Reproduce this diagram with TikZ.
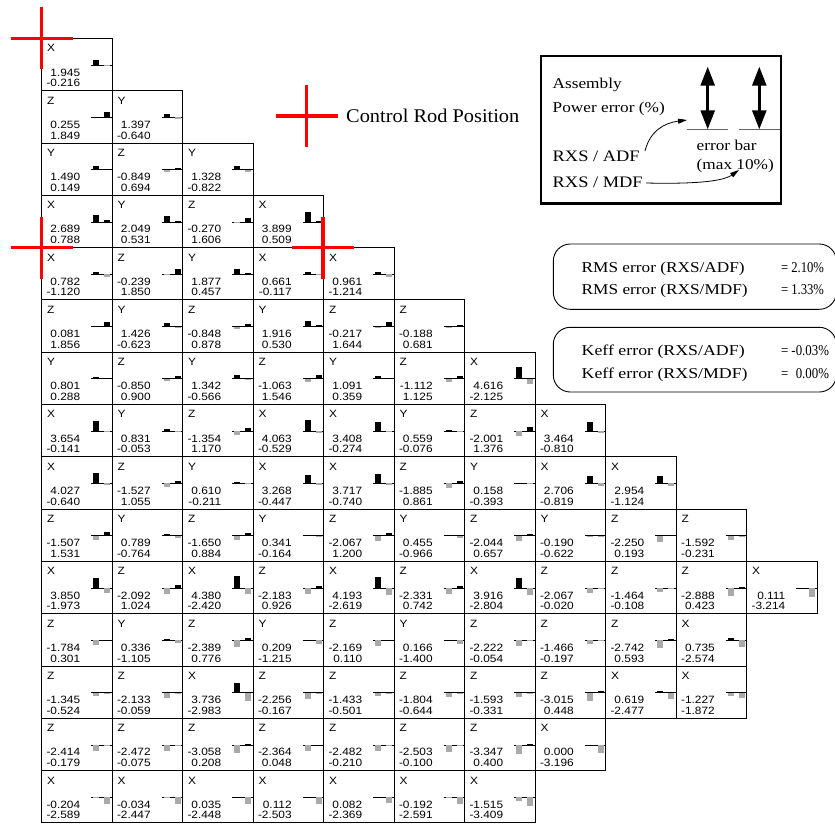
\documentclass[tikz,border=0pt]{standalone}
\usepackage{fontspec}
\usepackage{graphicx}
\setmainfont{Liberation Serif}
\newfontfamily\cellfont[FakeStretch=1.12]{Liberation Sans}
\newfontfamily\legfont[FakeStretch=1.15]{Liberation Serif}
\newfontfamily\rodfont[FakeStretch=1.05]{Liberation Serif}
\usetikzlibrary{arrows.meta}
\definecolor{rodred}{RGB}{255,0,0}
\definecolor{bargray}{RGB}{170,170,170}
\definecolor{legline}{RGB}{100,100,100}
\newcommand\fitw[2]{\resizebox{#1}{\height}{#2}}
\tikzset{
  cellbox/.style={draw, line width=0.8pt, minimum width=70.5pt, minimum height=52.3pt, inner sep=0pt, outer sep=0pt, anchor=north west},
  celltxt/.style={inner sep=0pt, outer sep=0pt, font=\cellfont\fontsize{10.6}{12}\selectfont},
  basel/.style={line width=0.8pt},
  rodmark/.style={draw=rodred, line width=3.4pt},
  legtxt/.style={inner sep=0pt, outer sep=0pt, anchor=base west, font=\legfont\fontsize{15}{17}\selectfont},
  rxstxt/.style={inner sep=0pt, outer sep=0pt, anchor=base west, font=\legfont\fontsize{16}{18}\selectfont},
  dblarrow/.style={line width=2.6pt, {Triangle[length=19pt,width=14pt]}-{Triangle[length=19pt,width=14pt]}},
  curvarrow/.style={line width=0.8pt, -{Triangle[length=9pt,width=5pt]}},
  roundbox/.style={draw, line width=0.9pt, rounded corners=17pt, inner sep=0pt, outer sep=0pt, anchor=north west}
}
\newcommand\cellbar[3]{%
  \pgfmathsetmacro\bh{-(#3)*2.65}%
  \pgfmathtruncatemacro\isneg{(#3)<0}%
  \ifnum\isneg=1\relax
    \fill[bargray] (#1,#2) rectangle ++(5.7,\bh);%
  \else
    \fill[black] (#1,#2) rectangle ++(5.7,\bh);%
  \fi}
\newcommand\cell[5]{%
  \pgfmathsetmacro\cx{41.7+#1*70.5}%
  \pgfmathsetmacro\cy{38.3+#2*52.3}%
  \node[cellbox] (c-#2-#1) at (\cx,\cy) {};
  \node[celltxt, anchor=base west] (l-#2-#1) at (\cx+5.3,\cy+13.5) {#3};
  \node[celltxt, anchor=base east] (a-#2-#1) at (\cx+38.5,\cy+37.7) {#4};
  \node[celltxt, anchor=base east] (b-#2-#1) at (\cx+38.5,\cy+48.4) {#5};
  \draw[basel] (\cx+49.3,\cy+26.7) -- (\cx+70.5,\cy+26.7);
  \cellbar{\cx+51.6}{\cy+26.7}{#4}
  \cellbar{\cx+62.6}{\cy+26.7}{#5}
}
\begin{document}
\begin{tikzpicture}[x=1pt,y=-1pt]
\fill[white] (0,0) rectangle (835,823);
\clip (0,0) rectangle (835,823);
% rows
\foreach \c/\l/\a/\b in {0/X/1.945/-0.216}{\cell{\c}{0}{\l}{\a}{\b}}
\foreach \c/\l/\a/\b in {0/Z/0.255/1.849, 1/Y/1.397/-0.640}{\cell{\c}{1}{\l}{\a}{\b}}
\foreach \c/\l/\a/\b in {0/Y/1.490/0.149, 1/Z/-0.849/0.694, 2/Y/1.328/-0.822}{\cell{\c}{2}{\l}{\a}{\b}}
\foreach \c/\l/\a/\b in {0/X/2.689/0.788, 1/Y/2.049/0.531, 2/Z/-0.270/1.606, 3/X/3.899/0.509}{\cell{\c}{3}{\l}{\a}{\b}}
\foreach \c/\l/\a/\b in {0/X/0.782/-1.120, 1/Z/-0.239/1.850, 2/Y/1.877/0.457, 3/X/0.661/-0.117, 4/X/0.961/-1.214}{\cell{\c}{4}{\l}{\a}{\b}}
\foreach \c/\l/\a/\b in {0/Z/0.081/1.856, 1/Y/1.426/-0.623, 2/Z/-0.848/0.878, 3/Y/1.916/0.530, 4/Z/-0.217/1.644, 5/Z/-0.188/0.681}{\cell{\c}{5}{\l}{\a}{\b}}
\foreach \c/\l/\a/\b in {0/Y/0.801/0.288, 1/Z/-0.850/0.900, 2/Y/1.342/-0.566, 3/Z/-1.063/1.546, 4/Y/1.091/0.359, 5/Z/-1.112/1.125, 6/X/4.616/-2.125}{\cell{\c}{6}{\l}{\a}{\b}}
\foreach \c/\l/\a/\b in {0/X/3.654/-0.141, 1/Y/0.831/-0.053, 2/Z/-1.354/1.170, 3/X/4.063/-0.529, 4/X/3.408/-0.274, 5/Y/0.559/-0.076, 6/Z/-2.001/1.376, 7/X/3.464/-0.810}{\cell{\c}{7}{\l}{\a}{\b}}
\foreach \c/\l/\a/\b in {0/X/4.027/-0.640, 1/Z/-1.527/1.055, 2/Y/0.610/-0.211, 3/X/3.268/-0.447, 4/X/3.717/-0.740, 5/Z/-1.885/0.861, 6/Y/0.158/-0.393, 7/X/2.706/-0.819, 8/X/2.954/-1.124}{\cell{\c}{8}{\l}{\a}{\b}}
\foreach \c/\l/\a/\b in {0/Z/-1.507/1.531, 1/Y/0.789/-0.764, 2/Z/-1.650/0.884, 3/Y/0.341/-0.164, 4/Z/-2.067/1.200, 5/Y/0.455/-0.966, 6/Z/-2.044/0.657, 7/Y/-0.190/-0.622, 8/Z/-2.250/0.193, 9/Z/-1.592/-0.231}{\cell{\c}{9}{\l}{\a}{\b}}
\foreach \c/\l/\a/\b in {0/X/3.850/-1.973, 1/Z/-2.092/1.024, 2/X/4.380/-2.420, 3/Z/-2.183/0.926, 4/X/4.193/-2.619, 5/Z/-2.331/0.742, 6/X/3.916/-2.804, 7/Z/-2.067/-0.020, 8/Z/-1.464/-0.108, 9/Z/-2.888/0.423, 10/X/0.111/-3.214}{\cell{\c}{10}{\l}{\a}{\b}}
\foreach \c/\l/\a/\b in {0/Z/-1.784/0.301, 1/Y/0.336/-1.105, 2/Z/-2.389/0.776, 3/Y/0.209/-1.215, 4/Z/-2.169/0.110, 5/Y/0.166/-1.400, 6/Z/-2.222/-0.054, 7/Z/-1.466/-0.197, 8/Z/-2.742/0.593, 9/X/0.735/-2.574}{\cell{\c}{11}{\l}{\a}{\b}}
\foreach \c/\l/\a/\b in {0/Z/-1.345/-0.524, 1/Z/-2.133/-0.059, 2/X/3.736/-2.983, 3/Z/-2.256/-0.167, 4/Z/-1.433/-0.501, 5/Z/-1.804/-0.644, 6/Z/-1.593/-0.331, 7/Z/-3.015/0.448, 8/X/0.619/-2.477, 9/X/-1.227/-1.872}{\cell{\c}{12}{\l}{\a}{\b}}
\foreach \c/\l/\a/\b in {0/Z/-2.414/-0.179, 1/Z/-2.472/-0.075, 2/Z/-3.058/0.208, 3/Z/-2.364/0.048, 4/Z/-2.482/-0.210, 5/Z/-2.503/-0.100, 6/Z/-3.347/0.400, 7/X/0.000/-3.196}{\cell{\c}{13}{\l}{\a}{\b}}
\foreach \c/\l/\a/\b in {0/X/-0.204/-2.589, 1/X/-0.034/-2.447, 2/X/0.035/-2.448, 3/X/0.112/-2.503, 4/X/0.082/-2.369, 5/X/-0.192/-2.591, 6/X/-1.515/-3.409}{\cell{\c}{14}{\l}{\a}{\b}}
% control rod marks
\coordinate (rod1) at (41.5,38.3);
\coordinate (rod2) at (41.5,247.5);
\coordinate (rod3) at (322.9,247.5);
\coordinate (rodleg) at (306.7,116);
\foreach \p in {rod1,rod2,rod3,rodleg}{
  \draw[rodmark] (\p) ++(-31,0) -- ++(62,0);
  \draw[rodmark] (\p) ++(0,-31) -- ++(0,62);
}
\node[inner sep=0pt, anchor=base west, font=\rodfont\fontsize{19.4}{21}\selectfont] (rodtxt) at (346,122) {Control Rod Position};
% legend box
\node[draw, line width=2.2pt, minimum width=240pt, minimum height=147.5pt, inner sep=0pt, outer sep=0pt, anchor=north west] (legbox) at (541,56) {};
\node[legtxt] (asm) at (552.7,88) {Assembly};
\node[legtxt] (pwr) at (552.7,112.5) {Power error (\%)};
\node[rxstxt] (adf) at (552.7,161.5) {RXS / ADF};
\node[rxstxt] (mdf) at (552.7,187) {RXS / MDF};
\node[legtxt] (ebar) at (696.7,150) {error bar};
\node[legtxt] (emax) at (696.7,169) {(max 10\%)};
\coordinate (bl1a) at (686.7,129.3);
\coordinate (bl1b) at (728.3,129.3);
\coordinate (bl2a) at (739,129.3);
\coordinate (bl2b) at (780,129.3);
\draw[legline, line width=1pt] (bl1a) -- (bl1b);
\draw[legline, line width=1pt] (bl2a) -- (bl2b);
\coordinate (ar1t) at (707.7,66.7);
\coordinate (ar1b) at (707.7,129.3);
\coordinate (ar2t) at (759.3,66.7);
\coordinate (ar2b) at (759.3,129.3);
\draw[dblarrow] (ar1t) -- (ar1b);
\draw[dblarrow] (ar2t) -- (ar2b);
\coordinate (c1s) at (645,151);
\coordinate (c1e) at (687,120);
\draw[curvarrow] (c1s) .. controls (650,131) and (664,123) .. (c1e);
\coordinate (c2s) at (646,183);
\coordinate (c2e) at (739,170);
\draw[curvarrow] (c2s) .. controls (690,184) and (722,182) .. (c2e);
% RMS box
\node[roundbox, minimum width=283pt, minimum height=65.3pt] (rmsbox) at (553.3,244) {};
\node[legtxt] (rms1) at (581.7,272.3) {\fitw{163pt}{RMS error (RXS/ADF)}};
\node[legtxt] (rms1v) at (781,272.3) {\fitw{43pt}{= 2.10\%}};
\node[legtxt] (rms2) at (581.7,294.5) {\fitw{166pt}{RMS error (RXS/MDF)}};
\node[legtxt] (rms2v) at (781,294.5) {\fitw{43pt}{= 1.33\%}};
% Keff box
\node[roundbox, minimum width=283pt, minimum height=64.7pt] (keffbox) at (553.3,327.3) {};
\node[legtxt] (keff1) at (581.7,355.5) {\fitw{163pt}{Keff error (RXS/ADF)}};
\node[legtxt] (keff1v) at (781,355.5) {\fitw{48pt}{= -0.03\%}};
\node[legtxt] (keff2) at (581.7,378) {\fitw{166pt}{Keff error (RXS/MDF)}};
\node[legtxt] (keff2v) at (781,378) {\fitw{48pt}{= \phantom{-}0.00\%}};
\end{tikzpicture}
\end{document}
